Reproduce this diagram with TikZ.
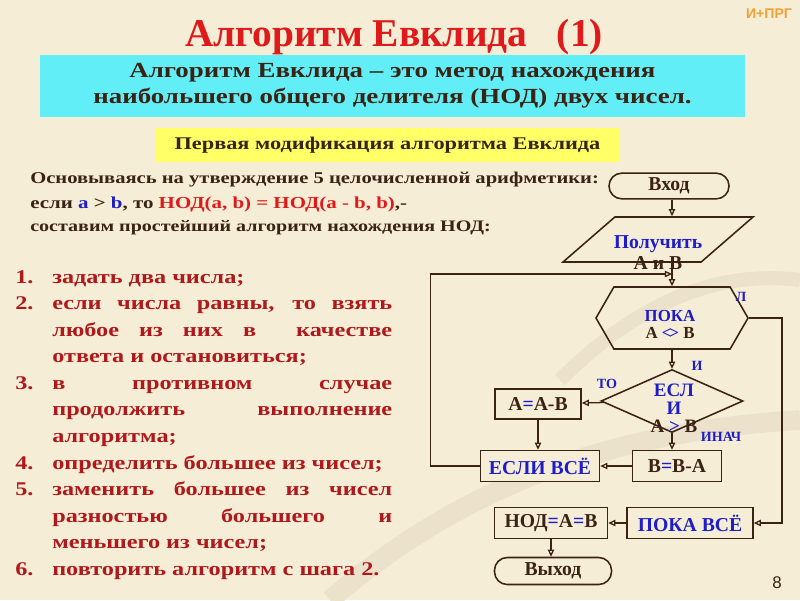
\documentclass[tikz,border=0pt]{standalone}
\usepackage{fontspec}
\setmainfont{Liberation Serif}
\newfontfamily\widefont[FakeStretch=1.25]{Liberation Serif}
\newfontfamily\sansfont{Liberation Sans}
\usetikzlibrary{arrows.meta, positioning, shapes.geometric, shapes.symbols}
\definecolor{bgcol}{HTML}{F6EDD6}
\definecolor{swirl}{HTML}{ECE2CB}
\definecolor{titlered}{HTML}{E01A1A}
\definecolor{listred}{HTML}{B0191C}
\definecolor{cyanbox}{HTML}{62EEF6}
\definecolor{yelbox}{HTML}{FFFF66}
\definecolor{ink}{HTML}{3A2214}
\definecolor{lblue}{HTML}{1E1EC8}
\definecolor{orng}{HTML}{F0A236}
\newlength\pxu
\setlength\pxu{0.025cm}
\newcommand{\boxfont}{\bfseries\fontsize{14}{16}\selectfont}
\newcommand{\bl}[1]{{\color{lblue}#1}}
\newcommand{\stepitem}[2]{\noindent\hangindent=37\pxu\hangafter=1\makebox[37\pxu][l]{#1}#2\par}

\begin{document}
\begin{tikzpicture}[x=0.025cm, y=-0.025cm,
    box/.style={rectangle, draw=ink, line width=1.1pt, fill=bgcol, minimum height=0.775cm, inner sep=2pt, text=ink, font=\boxfont},
    term/.style={rectangle, rounded corners=0.32cm, draw=ink, line width=1.1pt, fill=bgcol, text=ink, font=\boxfont},
    lbl/.style={text=lblue, font=\bfseries\fontsize{10}{11}\selectfont, inner sep=1pt},
    ctext/.style={font=\bfseries\fontsize{13.5}{15}\selectfont, inner sep=0},
    arrow/.style={-{Triangle[open, length=5pt, width=4.5pt]}, draw=ink, line width=0.9pt},
    line/.style={draw=ink, line width=0.9pt}]
    % background
    \fill[bgcol] (0,0) rectangle (800,600);
    \useasboundingbox (0,0) rectangle (800,600);
    \draw[swirl, line width=14pt] (330,600) .. controls (480,470) and (640,430) .. (800,420);
    \draw[swirl, line width=10pt] (560,380) .. controls (640,300) and (720,270) .. (800,280);

    % headings
    \node[anchor=base, text=titlered, font=\bfseries\fontsize{28}{32}\selectfont] (title) at (394,46) {Алгоритм Евклида \ \ (1)};
    \node[text=orng, font=\sansfont\bfseries\fontsize{10}{12}\selectfont] (tag) at (769,14) {И+ПРГ};
    \node[fill=cyanbox, minimum width=17.625cm, minimum height=1.55cm, align=center, text=ink,
          font=\widefont\bfseries\fontsize{15.3}{18.4}\selectfont] (defn) at (392.5,86)
          {Алгоритм Евклида – это метод нахождения\\наибольшего общего делителя (НОД) двух чисел.};
    \node[fill=yelbox, minimum width=11.625cm, minimum height=0.85cm, text=ink,
          font=\widefont\bfseries\fontsize{12.7}{15}\selectfont] (mod) at (387.5,145) {Первая модификация алгоритма Евклида};

    % intro text
    \node[anchor=west, text=ink, font=\widefont\bfseries\fontsize{11.7}{14}\selectfont, inner sep=0] (intro1) at (30,180)
          {Основываясь на утверждение 5 целочисленной арифметики:};
    \node[anchor=west, text=ink, font=\widefont\bfseries\fontsize{11.9}{14}\selectfont, inner sep=0] (intro2) at (30,204)
          {если \bl{a} > \bl{b}, то \textcolor{titlered}{НОД(a, b) = НОД(a - b, b)},-};
    \node[anchor=west, text=ink, font=\widefont\bfseries\fontsize{11.4}{14}\selectfont, inner sep=0] (intro3) at (30,228)
          {составим простейший алгоритм нахождения НОД:};

    % steps
    \node[anchor=north west, inner sep=0, text width=377\pxu, align=justify, text=listred,
          font=\widefont\bfseries\fontsize{13.8}{18.9}\selectfont] (steps) at (15,270) {%
      \stepitem{1.}{задать два числа;}
      \stepitem{2.}{если числа равны, то взять\linebreak любое из них в \ качестве\linebreak ответа и остановиться;}
      \stepitem{3.}{в противном случае\linebreak продолжить выполнение\linebreak алгоритма;}
      \stepitem{4.}{определить большее из чисел;}
      \stepitem{5.}{заменить большее из чисел\linebreak разностью большего и\linebreak меньшего из чисел;}
      \stepitem{6.}{повторить алгоритм с шага 2.}};

    % flowchart
    \node[term, minimum width=3cm, minimum height=0.625cm] (vhod) at (669,186) {Вход};
    \node[trapezium, trapezium left angle=59, trapezium right angle=121, trapezium stretches,
          draw=ink, line width=1.1pt, minimum width=4.75cm, minimum height=1.125cm] (inp) at (658,239.5) {};
    \node[text=lblue, font=\bfseries\fontsize{14}{15}\selectfont] (inptxt) at (658,244) {Получить};
    \node[text=ink, font=\bfseries\fontsize{14}{15}\selectfont] (inptxt2) at (658,263) {А и В};
    \node[signal, signal to=west and east, signal pointer angle=120, draw=ink, line width=1.1pt,
          minimum width=3.8cm, minimum height=1.55cm] (loop) at (672,318) {};
    \node[text=lblue, font=\bfseries\fontsize{12}{13}\selectfont] (looptxt) at (670,316) {ПОКА};
    \node[text=ink, font=\bfseries\fontsize{12}{13}\selectfont] (looptxt2) at (670,333) {А \bl{<\kern-1.5pt>} В};
    \node[diamond, draw=ink, line width=1.1pt, minimum width=3.55cm, minimum height=1.575cm, inner sep=0] (cond) at (672,401) {};
    \node[ctext, text=lblue] (condtxt) at (674,390) {ЕСЛ};
    \node[ctext, text=lblue] (condtxt2) at (674,408) {И};
    \node[ctext, text=ink] (condtxt3) at (674,426) {А \bl{>} В};
    \node[box, minimum width=2.15cm, minimum height=0.75cm] (aab) at (538,404) {А\bl{=}А-В};
    \node[box, minimum width=2.225cm] (bba) at (677,466) {В\bl{=}В-А};
    \node[box, minimum width=2.975cm, text=lblue] (esli) at (540,466) {ЕСЛИ ВСЁ};
    \node[box, minimum width=3.15cm, text=lblue] (pokavse) at (690,523) {ПОКА ВСЁ};
    \node[box, minimum width=2.825cm] (nod) at (551,523) {НОД\bl{=}А\bl{=}В};
    \node[term, minimum width=2.925cm, minimum height=0.675cm] (vyhod) at (553,571) {Выход};
    \coordinate (merge) at (672,274);

    % branch labels
    \node[lbl] (lblL) at (741,297) {Л};
    \node[lbl] (lblI) at (697,366) {И};
    \node[lbl] (lblTo) at (607,384) {ТО};
    \node[lbl] (lblElse) at (721,437) {ИНАЧ};

    % arrows
    \draw[arrow] (vhod.south -| loop) -- (loop |- inp.north);
    \draw[arrow] (loop |- inp.south) -- (loop);
    \draw[arrow] (loop) -- (cond);
    \draw[arrow] (cond) -- (aab);
    \draw[arrow] (cond.south) -- (cond.south |- bba.north);
    \draw[arrow] (aab.south) -- (aab.south |- esli.north);
    \draw[arrow] (bba) -- (esli);
    \draw[arrow] (esli.west) -- ++(-49,0) |- (merge);
    \draw[arrow] (loop.east) -- ++(33,0) |- (pokavse.east);
    \draw[arrow] (pokavse) -- (nod);
    \draw[arrow] (nod.south) -- (nod.south |- vyhod.north);

    \node[text=ink, font=\sansfont\fontsize{12}{13}\selectfont] (pagenum) at (777,583) {8};
\end{tikzpicture}
\end{document}
